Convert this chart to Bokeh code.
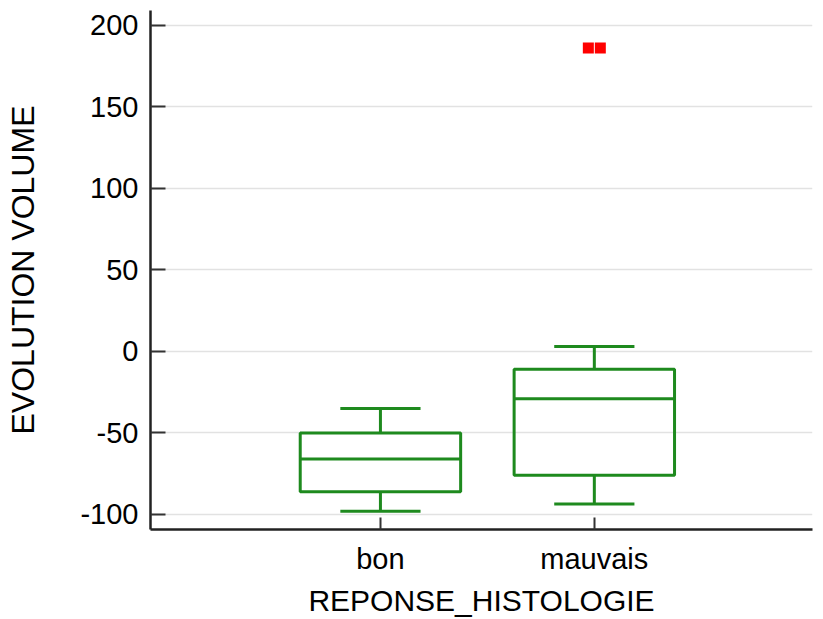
from bokeh.plotting import figure
from bokeh.models import Range1d, FixedTicker, ColumnDataSource
from bokeh.embed import file_html
from bokeh.resources import INLINE

# ---- data ----
categories = ["bon", "mauvais"]
whisker_low = [-98, -93.5]
q1 = [-86, -76]
median = [-66, -29]
q3 = [-50, -11]
whisker_high = [-35, 3]
outlier_cat = ["mauvais", "mauvais"]
outlier_val = [186, 186]
y_ticks = [-100, -50, 0, 50, 100, 150, 200]

GREEN = "#1E8A1E"
FONT = "Liberation Sans"

xpos = [i + 1 for i in range(len(categories))]
box_w = 0.75
cap_w = 0.375

src = ColumnDataSource(dict(
    x=xpos, lo=whisker_low, q1=q1, med=median, q3=q3, hi=whisker_high,
    xl=[x - box_w / 2 for x in xpos], xr=[x + box_w / 2 for x in xpos],
    cl=[x - cap_w / 2 for x in xpos], cr=[x + cap_w / 2 for x in xpos],
))

p = figure(width=823, height=619, output_backend="svg", toolbar_location=None,
           x_range=Range1d(-0.075, 3.02), y_range=Range1d(-109.2, 209),
           min_border_left=150, min_border_right=11, min_border_top=10,
           min_border_bottom=90)
p.outline_line_color = None
p.background_fill_color = "white"
p.border_fill_color = "white"

# boxes
p.vbar(x="x", top="q3", bottom="q1", width=box_w, source=src,
       fill_color=None, line_color=GREEN, line_width=3)
# medians
p.segment(x0="xl", x1="xr", y0="med", y1="med", source=src,
          line_color=GREEN, line_width=3)
# stems
p.segment(x0="x", x1="x", y0="q3", y1="hi", source=src, line_color=GREEN, line_width=3)
p.segment(x0="x", x1="x", y0="q1", y1="lo", source=src, line_color=GREEN, line_width=3)
# caps
p.segment(x0="cl", x1="cr", y0="hi", y1="hi", source=src, line_color=GREEN, line_width=3)
p.segment(x0="cl", x1="cr", y0="lo", y1="lo", source=src, line_color=GREEN, line_width=3)

# outliers (side by side when equal)
n_out = len(outlier_val)
ox = [categories.index(c) + 1 + (i - (n_out - 1) / 2) * 0.056 for i, c in enumerate(outlier_cat)]
p.scatter(x=ox, y=outlier_val, marker="square", size=11, fill_color="red",
          line_color=None)

# axes
p.xaxis.ticker = FixedTicker(ticks=xpos)
p.xaxis.major_label_overrides = {x: c for x, c in zip(xpos, categories)}
p.yaxis.ticker = FixedTicker(ticks=y_ticks)
p.yaxis.major_label_overrides = {t: str(t) for t in y_ticks}

p.xaxis.axis_label = "REPONSE_HISTOLOGIE"
p.yaxis.axis_label = "EVOLUTION VOLUME"

for ax in (p.xaxis[0], p.yaxis[0]):
    ax.axis_line_color = "#222222"
    ax.axis_line_width = 2.5
    ax.major_tick_line_color = "#333333"
    ax.major_tick_line_width = 2
    ax.major_tick_out = 0
    ax.minor_tick_line_color = None
    ax.major_label_text_font = FONT
    ax.major_label_text_font_size = "29px"
    ax.major_label_text_color = "black"
    ax.axis_label_text_font = FONT
    ax.axis_label_text_font_style = "normal"
    ax.axis_label_text_color = "black"

p.yaxis.major_tick_in = 15
p.xaxis.major_tick_in = 12
p.yaxis.major_label_standoff = 12
p.xaxis.major_label_standoff = 13
p.yaxis.axis_label_text_font_size = "32px"
p.xaxis.axis_label_text_font_size = "30px"
p.yaxis.axis_label_standoff = 36
p.xaxis.axis_label_standoff = 6

p.xgrid.grid_line_color = None
p.ygrid.grid_line_color = "#e2e2e2"
p.ygrid.grid_line_width = 1.5

open("out.html", "w").write(file_html(p, INLINE))
